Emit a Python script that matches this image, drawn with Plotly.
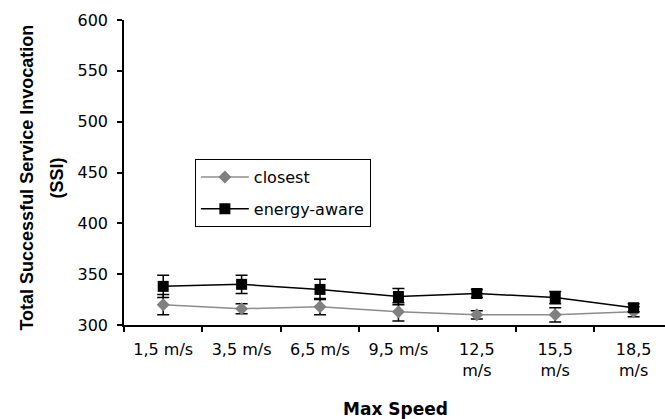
import plotly.graph_objects as go

categories = ["1,5 m/s", "3,5 m/s", "6,5 m/s", "9,5 m/s", "12,5 m/s", "15,5 m/s", "18,5 m/s"]
tick_labels = ["1,5 m/s", "3,5 m/s", "6,5 m/s", "9,5 m/s", "12,5<br>m/s", "15,5<br>m/s", "18,5<br>m/s"]
closest = [320, 316, 318, 313, 310, 310, 313]
closest_err = [10, 5, 8, 9, 4, 7, 5]
energy = [338, 340, 335, 328, 331, 327, 317]
energy_err = [11, 9, 10, 8, 4, 6, 4]

FONT = "DejaVu Sans"

fig = go.Figure()
fig.add_trace(go.Scatter(
    x=categories, y=closest, name="closest", mode="lines+markers",
    line=dict(color="#8c8c8c", width=1.5),
    marker=dict(symbol="diamond", size=10, color="#808080"),
    error_y=dict(type="data", array=closest_err, color="black", thickness=1.5, width=6),
    legendgroup="a",
))
fig.add_trace(go.Scatter(
    x=categories, y=energy, name="energy-aware", mode="lines+markers",
    line=dict(color="black", width=1.5),
    marker=dict(symbol="square", size=11, color="black"),
    error_y=dict(type="data", array=energy_err, color="black", thickness=1.5, width=6),
    legendgroup="b",
))

fig.update_layout(
    width=665, height=419,
    margin=dict(l=124, r=0, t=20, b=94),
    paper_bgcolor="white", plot_bgcolor="white",
    font=dict(family=FONT, size=16, color="black"),
    showlegend=True,
    legend=dict(
        x=0.131, y=0.544, xanchor="left", yanchor="top",
        bgcolor="white", bordercolor="black", borderwidth=1,
        font=dict(family=FONT, size=16, color="black"),
        itemwidth=48, tracegroupgap=8, traceorder="grouped",
    ),
    xaxis=dict(
        type="category", range=[-0.5, 6.4],
        tickmode="array", tickvals=categories, ticktext=tick_labels,
        tickson="boundaries", ticks="outside", ticklen=5, tickcolor="black", tickwidth=1.5,
        showline=True, linecolor="black", linewidth=1.5,
        showgrid=False, zeroline=False,
        tickfont=dict(family=FONT, size=16, color="black"),
        ticklabelstandoff=9,
    ),
    yaxis=dict(
        range=[300, 600], dtick=50, tick0=300,
        ticks="outside", ticklen=5, tickcolor="black", tickwidth=1.5,
        showline=True, linecolor="black", linewidth=1.5,
        showgrid=False, zeroline=False,
        tickfont=dict(family=FONT, size=16, color="black"),
        ticklabelstandoff=6,
    ),
    annotations=[
        dict(text="<b>Total Successful Service Invocation</b>", textangle=-90,
             xref="paper", yref="paper", x=-0.181, y=0.4836, showarrow=False,
             xanchor="center", yanchor="middle",
             font=dict(family="Liberation Sans, Arial", size=18, color="black")),
        dict(text="<b>(SSI)</b>", textangle=-90,
             xref="paper", yref="paper", x=-0.124, y=0.4836, showarrow=False,
             xanchor="center", yanchor="middle",
             font=dict(family="Liberation Sans, Arial", size=18, color="black")),
        dict(text="<b>Max Speed</b>",
             xref="paper", yref="paper", x=0.502, y=-0.275, showarrow=False,
             xanchor="center", yanchor="middle",
             font=dict(family="DejaVu Sans", size=17, color="black")),
    ],
)

fig.write_html("out.html")
